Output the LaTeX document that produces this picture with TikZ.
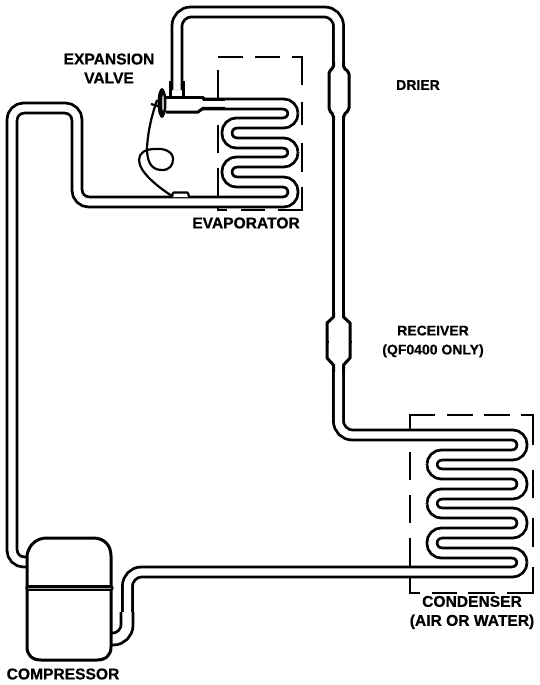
\documentclass[tikz,border=0pt]{standalone}
\usepackage{fontspec}
\setmainfont{Liberation Sans}[BoldFeatures={FakeBold=0.6}]
\tikzset{
 tube/.style={line width=2.8pt,double=white,double distance=7.2pt},
 wide/.style={line width=2.8pt,double=white,double distance=9.2pt},
 dsh/.style={line width=2.8pt},
 wall/.style={line width=3pt,line join=round},
 lbl/.style={font=\bfseries\fontsize{15.6pt}{19pt}\selectfont,align=center,inner sep=0pt},
 lblsmall/.style={font=\bfseries\fontsize{14pt}{19pt}\selectfont,align=center,inner sep=0pt}
}
\begin{document}
\begin{tikzpicture}[x=1pt,y=-1pt]
\useasboundingbox (0,0) rectangle (540,685);
% evaporator box dashes
\draw[dsh] (218,57)--(243,57) (255,57)--(280,57) (292,57)--(302,57)--(302,85);
\draw[dsh] (302,102)--(302,125) (302,143)--(302,172) (302,187)--(302,210)--(278,210);
\draw[dsh] (265,210)--(241,210) (227,210)--(218,210)--(218,168);
\draw[dsh] (218,153)--(218,125) (218,99)--(218,70);
% condenser box dashes
\draw[dsh] (410,430)--(410,415)--(435,415) (447,415)--(473,415) (484,415)--(510,415) (521,415)--(533,415)--(533,445);
\draw[dsh] (533,470)--(533,498) (533,518)--(533,547) (533,567)--(533,593)--(507,593);
\draw[dsh] (495,593)--(468,593) (457,593)--(432,593) (420,593)--(410,593)--(410,578);
\draw[dsh] (410,567)--(410,538) (410,523)--(410,495) (410,480)--(410,452);
% left tube + evaporator coil
\draw[tube,rounded corners=12pt] (32,562)--(12,562)--(12,108)--(77,108)--(77,202)[rounded corners=9.75pt]--(293,202)--(293,182)--(227,182)--(227,162)--(293,162)--(293,143)--(227,143)--(227,123)--(293,123)--(293,104)--(198,104);
% top tube
\draw[tube,rounded corners=14pt] (177,90)--(177,12)--(338.5,12)--(338.5,70);
\draw[tube] (338.5,110)--(338.5,320);
% condenser coil and return tube
\draw[tube,rounded corners=14pt] (338.5,362)--(338.5,435)[rounded corners=9.75pt]--(522,435)--(522,455)--(432,455)--(432,474)--(522,474)--(522,494)--(432,494)--(432,513)--(522,513)--(522,533)--(432,533)--(432,553)--(522,553)--(522,572)[rounded corners=14pt]--(127.5,572)--(127.5,618);
\draw[wide,rounded corners=14pt] (127,612)--(127,639)--(100,639);
% compressor
\draw[wall,fill=white] (27,555) .. controls (29,545) and (36,538) .. (47,538) -- (93,538) .. controls (104,538) and (111,545) .. (111,556) -- (111,647) .. controls (111,655) and (106,660) .. (97,660) -- (41,660) .. controls (32,660) and (27,655) .. (27,647) -- cycle;
\draw[line width=5.2pt,line cap=round] (28,588)--(111,588);
\draw[line width=.7pt,gray!70] (28,588)--(111,588);
% drier
\fill[white] (333.5,66)--(329,71)--(329,111)--(333.5,116)--(343.5,116)--(349,111)--(349,71)--(343.5,66)--cycle;
\draw[wall,rounded corners=2pt] (333.5,62)--(333.5,68)--(329,71)--(329,110)--(333.5,115)--(333.5,120);
\draw[wall,rounded corners=2pt] (343.5,62)--(343.5,68)--(349,72)--(349,110)--(343.5,115)--(343.5,120);
% receiver
\fill[white] (333.5,316)--(327,323)--(327,357)--(333.5,366)--(343.5,366)--(350,357)--(350,323)--(343.5,316)--cycle;
\draw[wall] (333.5,312)--(333.5,317)--(327,323)--(327,358)--(333.5,365)--(333.5,372);
\draw[wall] (343.5,312)--(343.5,317)--(350,323)--(350,358)--(343.5,365)--(343.5,372);
\draw[line width=1.5pt] (325.5,342)--(328.5,342) (348.5,342)--(351.5,342);
% valve fitting
\fill[white] (165,97)--(203,99)--(203,108)--(198,112)--(165,112)--cycle;
\draw[wall] (170,97)--(170,81) (183,97)--(183,81);
\draw[wall] (166,97)--(203,97)--(203,99.3)--(225,99.3);
\draw[wall] (166,112)--(198,112)--(203,108.3)--(225,108.3);
% valve disc
\fill (162,103) ellipse [x radius=4.5pt,y radius=15pt];
\fill[gray!60] (163,103) ellipse [x radius=1.2pt,y radius=8pt];
\draw[line width=2.2pt] (151,104)--(161,107);
% capillary and bulb
\draw[line width=2.2pt] (157,100) .. controls (152,115) and (148,130) .. (147,148) .. controls (147,160) and (150,170) .. (162,170) .. controls (170,170) and (173,165) .. (173,159) .. controls (173,152) and (165,148) .. (155,149) .. controls (145,149) and (139,153) .. (139,160) .. controls (139,172) and (158,187) .. (172,196);
\draw[line width=2.2pt,fill=white,rounded corners=1pt] (172,197)--(173,192.5)--(188,192.5)--(189,197);
% labels
\node[lbl] (expansion) at (109,68.5) {EXPANSION\\VALVE};
\node[lblsmall] (drier) at (418,85) {DRIER};
\node[lbl] (evaporator) at (246,223) {EVAPORATOR};
\node[lblsmall] (receiver) at (433,341.5) {RECEIVER\\(QF0400 ONLY)};
\node[lbl] (condenser) at (472,612.5) {CONDENSER\\(AIR OR WATER)};
\node[lbl] (compressor) at (63,674) {COMPRESSOR};
\end{tikzpicture}
\end{document}
